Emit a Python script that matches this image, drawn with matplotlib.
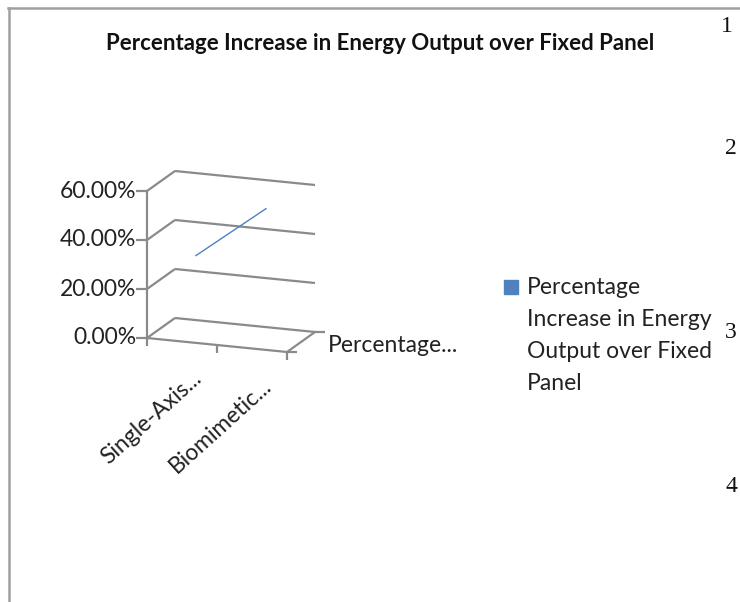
import matplotlib.pyplot as plt
from matplotlib.transforms import Affine2D, ScaledTranslation

title = "Percentage Increase in Energy Output over Fixed Panel"
categories = ["Single-Axis...", "Biomimetic..."]
values = [0.31, 0.53]
series_label = "Percentage..."
legend_lines = ["Percentage", "Increase in Energy", "Output over Fixed", "Panel"]
y_ticks = [0.0, 0.2, 0.4, 0.6]
y_tick_labels = ["0.00%", "20.00%", "40.00%", "60.00%"]
page_numbers = ["1", "2", "3", "4"]

W, H = 740, 602
fig = plt.figure(figsize=(W / 100, H / 100), dpi=100)
ax = fig.add_axes([0, 0, 1, 1])
ax.set_xlim(0, W)
ax.set_ylim(H, 0)
ax.axis("off")

FONT = "Lato"
GRID = "#8a8a8a"
BLUE = "#4f81bd"

# oblique "3D" box in pixel space: origin at the front-left floor corner
ox, oy = 147, 338
cat_v = (70, 7)      # one category step
val_v = (0, -245)    # value 0 -> 1
dep_v = (28, -20)    # front -> back


def plane(u, v, origin):
    return Affine2D.from_values(u[0], u[1], v[0], v[1], origin[0], origin[1]) + ax.transData


def wall(depth):     # (category, value) at a depth
    return plane(cat_v, val_v, (ox + dep_v[0] * depth, oy + dep_v[1] * depth))


def side(cat):       # (depth, value) at a category position
    return plane(dep_v, val_v, (ox + cat_v[0] * cat, oy + cat_v[1] * cat))


floor = plane(cat_v, dep_v, (ox, oy))   # (category, depth) at value 0


def shift(px, py):
    return ScaledTranslation(px / 100, py / 100, fig.dpi_scale_trans)


n = len(categories)
lw = 1.6

# gridlines on side + back walls
for v in y_ticks:
    ax.plot([0, 1], [v, v], color=GRID, lw=lw, transform=side(0), solid_capstyle="butt")
    ax.plot([0, n], [v, v], color=GRID, lw=lw, transform=wall(1), solid_capstyle="butt")

# floor front + right edges
ax.plot([0, n, n], [0, 0, 1], color=GRID, lw=lw, transform=floor)
# value axis
ax.plot([0, 0], [0, y_ticks[-1]], color=GRID, lw=lw, transform=wall(0))
ax.plot([0] * len(y_ticks), y_ticks, ls="none", marker=0, ms=8, mew=lw, color=GRID, transform=wall(0))
# category ticks
ax.plot(list(range(n + 1)), [0] * (n + 1), ls="none", marker=3, ms=6, mew=lw, color=GRID, transform=wall(0))
# series axis ticks
ax.plot([n, n], [0, 1], ls="none", marker=1, ms=7, mew=lw, color=GRID, transform=floor)

# data line at mid depth
ax.plot([i + 0.5 for i in range(n)], values, color=BLUE, lw=1, transform=wall(0.5))

# labels
for v, lab in zip(y_ticks, y_tick_labels):
    ax.text(0, v, lab, transform=wall(0) + shift(-11, 0), ha="right", va="center",
            fontsize=16.5, family=FONT, color="#222222")
for i, lab in enumerate(categories):
    ax.text(i + 0.5, 0, lab, transform=wall(0) + shift(16, -34), rotation=42,
            rotation_mode="anchor", ha="right", va="center", fontsize=16.5, family=FONT, color="#222222")
ax.text(n, 0.5, series_label, transform=floor + shift(27, -3), ha="left", va="center",
        fontsize=16.5, family=FONT, color="#222222")

ax.text(380, 44, title, ha="center", va="center", fontsize=16, family=FONT,
        fontweight="bold", color="#111111")

# legend
ax.plot([511], [287], marker="s", ms=10.5, color=BLUE, ls="none")
for k, line in enumerate(legend_lines):
    ax.text(527, 287 + 32 * k, line, ha="left", va="center", fontsize=16.5, family=FONT, color="#222222")

# page frame and page numbers
ax.plot([9, 9], [8, H], color="#a0a0a0", lw=1.8)
ax.plot([8, W], [8, 8], color="#a0a0a0", lw=1.8)
for x, y, num in zip([727, 731, 731, 731], [27, 148, 333, 487], page_numbers):
    ax.text(x, y, num, ha="center", va="center", fontsize=17, family="Liberation Serif", color="#111111")

fig.savefig("out.png", dpi=100)
